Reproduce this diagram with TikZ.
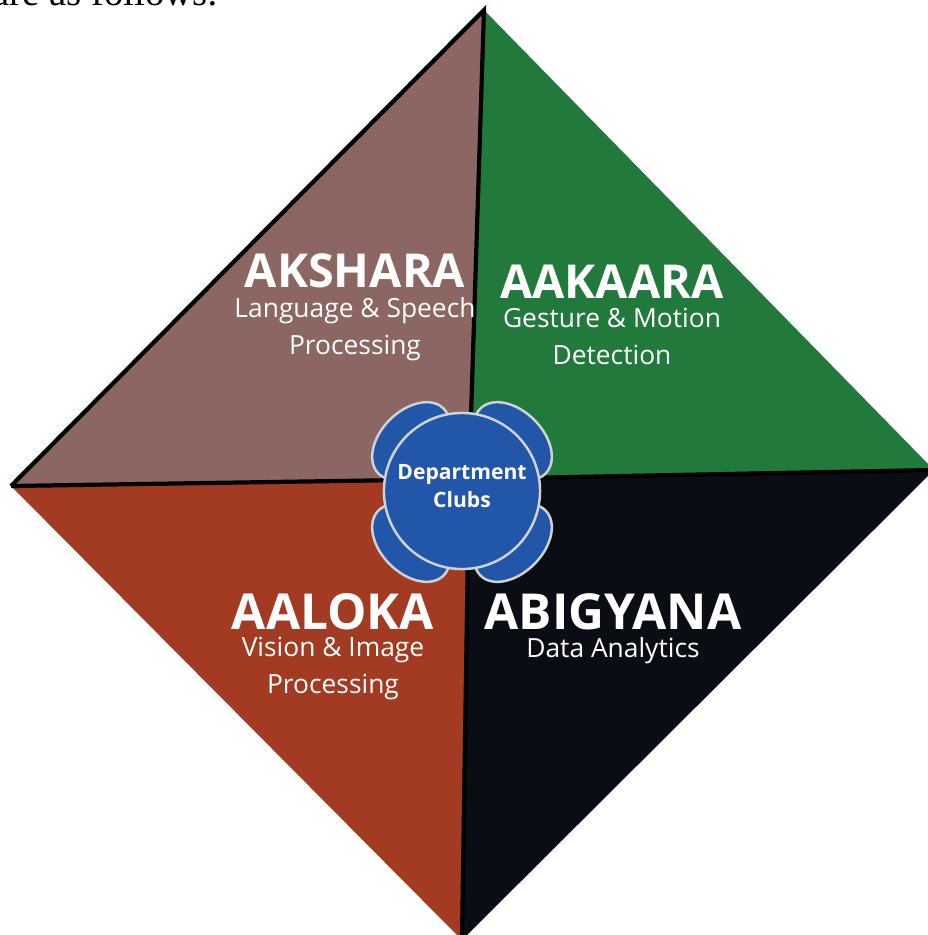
\documentclass[tikz,border=0pt]{standalone}
\usepackage{fontspec}
\setmainfont{Open Sans}
\newfontfamily\pageserif{Liberation Serif}
\usetikzlibrary{positioning}
\definecolor{aksharabrown}{HTML}{8B6662}
\definecolor{aakaaragreen}{HTML}{217A3C}
\definecolor{aalokared}{HTML}{A33A22}
\definecolor{abigyanablack}{HTML}{0A0E14}
\definecolor{clubblue}{HTML}{2156A8}

\begin{document}
\begin{tikzpicture}[
    x=0.01cm, y=-0.01cm,
    node distance=0.09cm,
    title/.style={font=\bfseries\fontsize{13.3}{15}\selectfont, text=white, inner sep=0pt},
    bigtitle/.style={title, font=\bfseries\fontsize{14.1}{16}\selectfont},
    sub/.style={font=\fontsize{7.5}{10.5}\selectfont, text=white, align=center, inner sep=0pt},
    petal/.style={draw=gray!35, line width=0.7pt, fill=clubblue},
    divider/.style={black, line width=1.2pt}
  ]
    \useasboundingbox (0,0) rectangle (928,935);
    \clip (0,0) rectangle (928,935);

    % Corners of the diamond
    \coordinate (top) at (484,10);
    \coordinate (left) at (11,486);
    \coordinate (right) at (934,470);
    \coordinate (bottom) at (462,940);
    \coordinate (mid) at (469,479);

    % Quadrants
    \fill[aksharabrown] (top) -- (left) -- (mid) -- cycle;
    \fill[aakaaragreen] (top) -- (right) -- (mid) -- cycle;
    \fill[aalokared] (left) -- (bottom) -- (mid) -- cycle;
    \fill[abigyanablack] (right) -- (bottom) -- (mid) -- cycle;

    \draw[divider] (left) -- (top) -- (mid);
    \draw[divider] (left) -- (mid) -- (right);
    \draw[divider] (mid) -- (bottom);

    % Centre
    \draw[petal, rotate around={45:(411,441)}] (411,441) ellipse (46 and 30);
    \draw[petal, rotate around={-45:(513,441)}] (513,441) ellipse (46 and 30);
    \draw[petal, rotate around={-45:(411,543)}] (411,543) ellipse (46 and 30);
    \draw[petal, rotate around={45:(513,543)}] (513,543) ellipse (46 and 30);
    \node[circle, petal, minimum size=1.56cm, inner sep=0pt] (clubs) at (462,491) {};
    \node[align=center, font=\bfseries\fontsize{6.0}{8}\selectfont, text=white] (clubstext) at (462,486) {Department\\Clubs};

    % Clubs
    \node[title] (akshara) at (355,271) {AKSHARA};
    \node[sub, below=0.08cm of akshara] (aksharasub) {Language \& Speech\\Processing};
    \node[title] (aakaara) at (612,282) {AAKAARA};
    \node[sub, below=0.08cm of aakaara] (aakaarasub) {Gesture \& Motion\\Detection};
    \node[bigtitle] (aaloka) at (333,612) {AALOKA};
    \node[sub, below=0.06cm of aaloka] (aalokasub) {Vision \& Image\\Processing};
    \node[bigtitle] (abigyana) at (613,612) {ABIGYANA};
    \node[sub, below=0.06cm of abigyana] (abigyanasub) {Data Analytics};

    % Page text above
    \node[anchor=base west, inner sep=0pt, font=\pageserif\fontsize{11}{13}\selectfont] (pagetext) at (-8,5) {are as follows:};
  \end{tikzpicture}
\end{document}
